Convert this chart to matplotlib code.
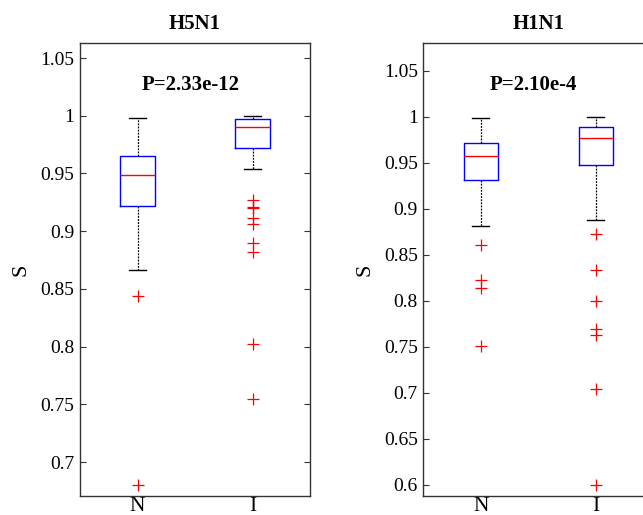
import matplotlib
matplotlib.use("Agg")
import matplotlib.pyplot as plt
from matplotlib.ticker import FormatStrFormatter, MultipleLocator

plt.rcParams['font.family'] = ['Liberation Serif', 'DejaVu Serif']

groups = ["N", "I"]

# H5N1 summary statistics: [whisker low, Q1, median, Q3, whisker high]
h5n1_N = [0.866, 0.9215, 0.949, 0.965, 0.998]
h5n1_I = [0.9535, 0.972, 0.990, 0.997, 1.000]
h5n1_N_out = [0.844, 0.680]
h5n1_I_out = [0.927, 0.921, 0.920, 0.911, 0.9065, 0.890, 0.882, 0.802, 0.755]

# H1N1 summary statistics
h1n1_N = [0.881, 0.931, 0.957, 0.971, 0.999]
h1n1_I = [0.888, 0.947, 0.977, 0.989, 1.000]
h1n1_N_out = [0.860, 0.8225, 0.814, 0.751]
h1n1_I_out = [0.872, 0.833, 0.800, 0.769, 0.763, 0.704, 0.600]

titles = ["H5N1", "H1N1"]
pvalues = ["P=2.33e-12", "P=2.10e-4"]
ylims = [(0.6706, 1.063), (0.5877, 1.080)]


def make_stats(summary, outliers, label):
    lo, q1, med, q3, hi = summary
    return dict(label=label, whislo=lo, q1=q1, med=med, q3=q3, whishi=hi,
                fliers=outliers)


fig = plt.figure(figsize=(6.43, 5.15), dpi=100)
positions = [(80 / 643, 1 - 496 / 515, 230 / 643, 453 / 515),
             (423.3 / 643, 1 - 496 / 515, 230 / 643, 453 / 515)]

data = [((h5n1_N, h5n1_N_out), (h5n1_I, h5n1_I_out)),
        ((h1n1_N, h1n1_N_out), (h1n1_I, h1n1_I_out))]

frame = "#333333"
for k in range(2):
    ax = fig.add_axes(positions[k])
    stats = [make_stats(s, o, g) for (s, o), g in zip(data[k], groups)]
    ax.bxp(stats, positions=[1, 2], widths=0.3, capwidths=0.15,
           boxprops=dict(color="#0000ff", linewidth=1.0),
           medianprops=dict(color="#ff0000", linewidth=1.0),
           whiskerprops=dict(color="black", linewidth=0.9, linestyle=(0, (1.5, 1.0))),
           capprops=dict(color="black", linewidth=1.0),
           flierprops=dict(marker="+", markeredgecolor="#ff0000",
                           markersize=8, markeredgewidth=0.9, linestyle="none"))
    ax.set_xlim(0.5, 2.5)
    ax.set_ylim(*ylims[k])
    ax.yaxis.set_major_locator(MultipleLocator(0.05))
    ax.yaxis.set_major_formatter(FormatStrFormatter('%g'))
    ax.set_xticks([1, 2])
    ax.set_xticklabels(groups)
    ax.tick_params(axis='y', direction='in', right=True, length=4, width=0.8,
                   labelsize=14, colors=frame, labelcolor="black", pad=4)
    ax.tick_params(axis='x', length=0, labelsize=15.5, pad=1)
    for sp in ax.spines.values():
        sp.set_color(frame)
        sp.set_linewidth(1.0)
    ax.set_ylabel("S", fontsize=16, labelpad=7)
    ax.set_title(titles[k], fontsize=15, fontweight="bold", pad=10)
    ax.text(0.48, 0.908, pvalues[k], transform=ax.transAxes, ha="center",
            va="center", fontsize=15, fontweight="bold")

fig.savefig("out.png", dpi=100)
